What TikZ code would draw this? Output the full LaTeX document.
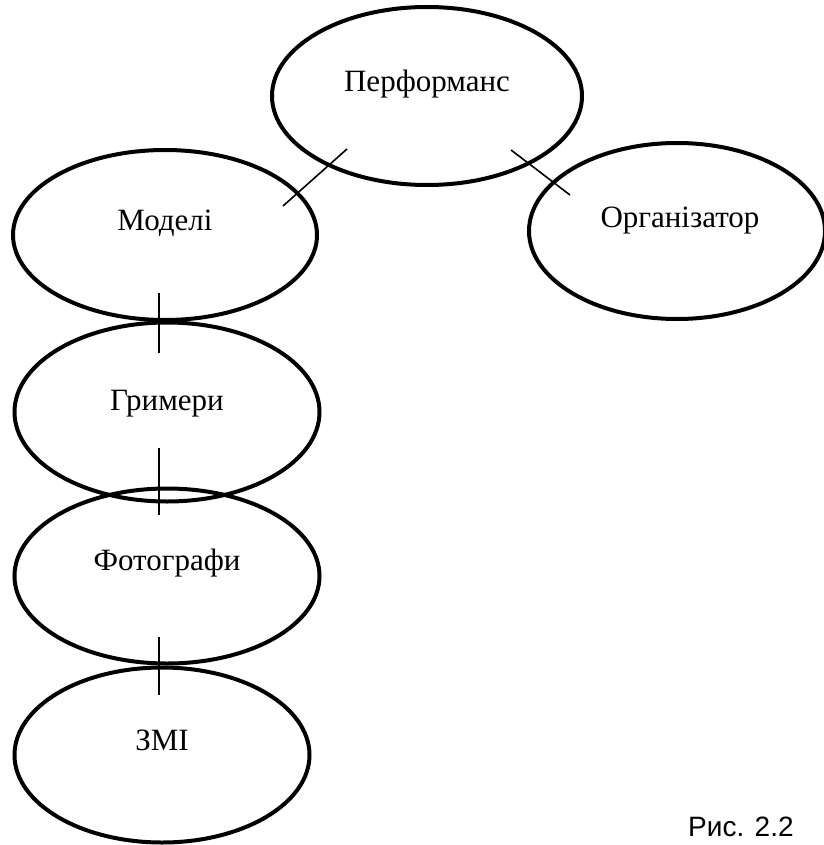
\documentclass[tikz,border=0pt]{standalone}
\usepackage{fontspec}
\setmainfont{Liberation Serif}
\newfontfamily\capfont{Liberation Sans}
\usetikzlibrary{shapes.geometric}
\begin{document}
\begin{tikzpicture}[x=1pt,y=-1pt,
  oval/.style={draw,ellipse,line width=4pt,inner sep=0pt,minimum width=#1},
  lbl/.style={font=\fontsize{31}{36}\selectfont,inner sep=0pt,anchor=base},
  link/.style={line width=1.6pt}]
\useasboundingbox (0,0) rectangle (823,845);
% ellipses
\node[oval=310pt,minimum height=178pt] (perf) at (427,96) {};
\node[oval=304pt,minimum height=170pt] (mod) at (165,235) {};
\node[oval=296pt,minimum height=176pt] (org) at (677,231) {};
\node[oval=305pt,minimum height=179pt] (grim) at (167,412) {};
\node[oval=305pt,minimum height=175pt] (foto) at (167,576) {};
\node[oval=295pt,minimum height=175pt] (zmi) at (162,755) {};
% labels
\node[lbl] (tperf) at (427,92) {Перформанс};
\node[lbl] (tmod) at (165,230) {Моделі};
\node[lbl] (torg) at (680,227) {Організатор};
\node[lbl] (tgrim) at (167,410) {Гримери};
\node[lbl] (tfoto) at (167,570) {Фотографи};
\node[lbl] (tzmi) at (162,750) {ЗМІ};
\node[font=\capfont\fontsize{28}{32}\selectfont,inner sep=0pt,anchor=base west] (cap) at (688,836) {Рис. 2.2};
% connector ends
\coordinate (a1) at (347,149); \coordinate (a2) at (283,206);
\coordinate (b1) at (511,150); \coordinate (b2) at (570,195);
\coordinate (c1) at (159,293); \coordinate (c2) at (159,353);
\coordinate (d1) at (159,448); \coordinate (d2) at (159,515);
\coordinate (e1) at (159,637); \coordinate (e2) at (159,695);
\draw[link] (a1) -- (a2);
\draw[link] (b1) -- (b2);
\draw[link] (c1) -- (c2);
\draw[link] (d1) -- (d2);
\draw[link] (e1) -- (e2);
\end{tikzpicture}
\end{document}
